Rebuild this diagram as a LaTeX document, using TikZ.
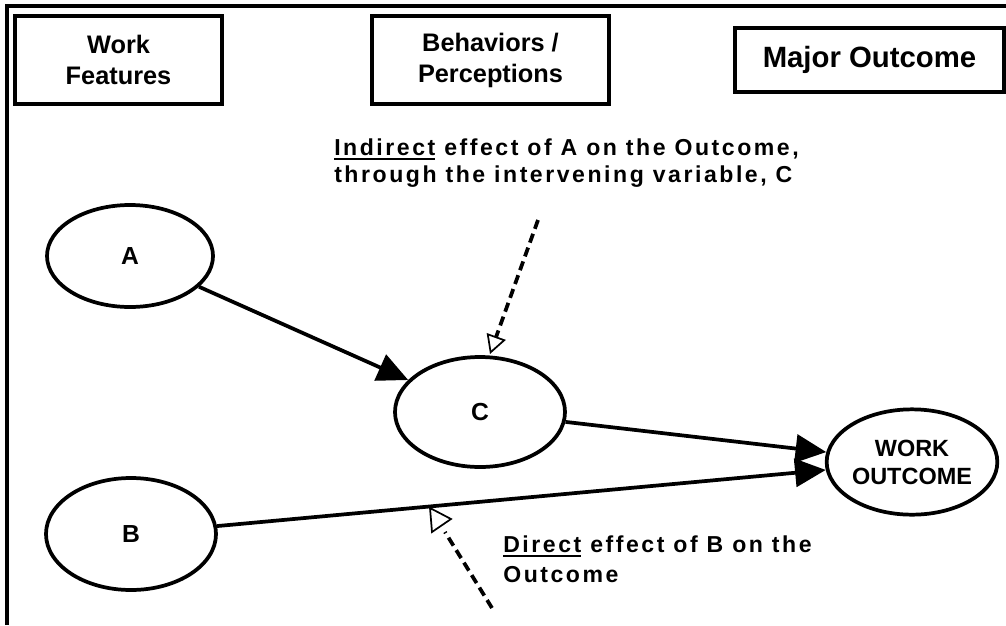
\documentclass[tikz,border=0pt]{standalone}
\usepackage{fontspec}
\setmainfont{Liberation Sans}
\newfontfamily\spacedfont{Liberation Sans Bold}[LetterSpace=11]
\usetikzlibrary{arrows.meta,shapes.geometric}
\newcommand\myul[1]{\setbox0\hbox{#1}\rlap{\rule[-3.5pt]{\wd0}{1.6pt}}\box0\relax}
\begin{document}
\begin{tikzpicture}[x=0.75pt,y=-0.75pt,
  hdr/.style={draw, line width=2.6pt, inner sep=0pt, align=center, font=\bfseries\fontsize{19}{23.25}\selectfont},
  oval/.style={ellipse, draw, line width=2.8pt, inner sep=0pt, align=center, minimum width=127.5pt, minimum height=82.5pt, font=\bfseries\fontsize{18.5}{22}\selectfont},
  link/.style={line width=2.8pt, -{Triangle[length=23pt,width=21pt]}},
  note/.style={anchor=base west, align=left, inner sep=0pt, font=\spacedfont\fontsize{17.3}{20.25}\selectfont},
  hint/.style={line width=2.8pt, dash pattern=on 7pt off 4pt},
]
\useasboundingbox (0,0) rectangle (1006,625);
\draw[line width=2.4pt] (7,625) -- (7,6) -- (1006,6);

\node[hdr, minimum width=155.25pt, minimum height=66pt] (wf) at (118.5,60) {Work\\Features};
\node[hdr, minimum width=177.75pt, minimum height=66pt] (bp) at (490.5,60) {Behaviors /\\Perceptions};
\node[hdr, minimum width=201.75pt, minimum height=48pt, font=\bfseries\fontsize{22}{26}\selectfont] (mo) at (869.5,60) {Major Outcome};

\node[oval, minimum width=124.5pt, minimum height=76.5pt] (A) at (130,256) {A};
\node[oval, minimum width=127.5pt, minimum height=84pt] (B) at (131,534) {B};
\node[oval] (C) at (480,412) {C};
\node[oval, minimum width=128pt, minimum height=79pt, font=\bfseries\fontsize{17.6}{21}\selectfont] (W) at (912,462) {WORK\\OUTCOME};

\draw[link] (A) -- (C);
\draw[link] (C) -- (W);
\draw[link] (B) -- (W);

\node[note] (ind) at (334,182) {\myul{Indirect} effect of A on the Outcome,\\through the intervening variable, C};
\node[note, font=\spacedfont\fontsize{17.3}{22.5}\selectfont] (dir) at (503,582) {\myul{Direct} effect of B on the\\Outcome};

\coordinate (i0) at (538,220);
\coordinate (i1) at (490,354);
\draw[hint, -{Triangle[open, length=14pt, width=15pt, line width=1.3pt]}] (i0) -- (i1);

\coordinate (d0) at (492,608);
\coordinate (d1) at (445,532);
\draw[hint] (d0) -- (d1);
\draw[line width=1.3pt, fill=white] (430,508) -- (432,532) -- (451,519) -- cycle;
\end{tikzpicture}
\end{document}
